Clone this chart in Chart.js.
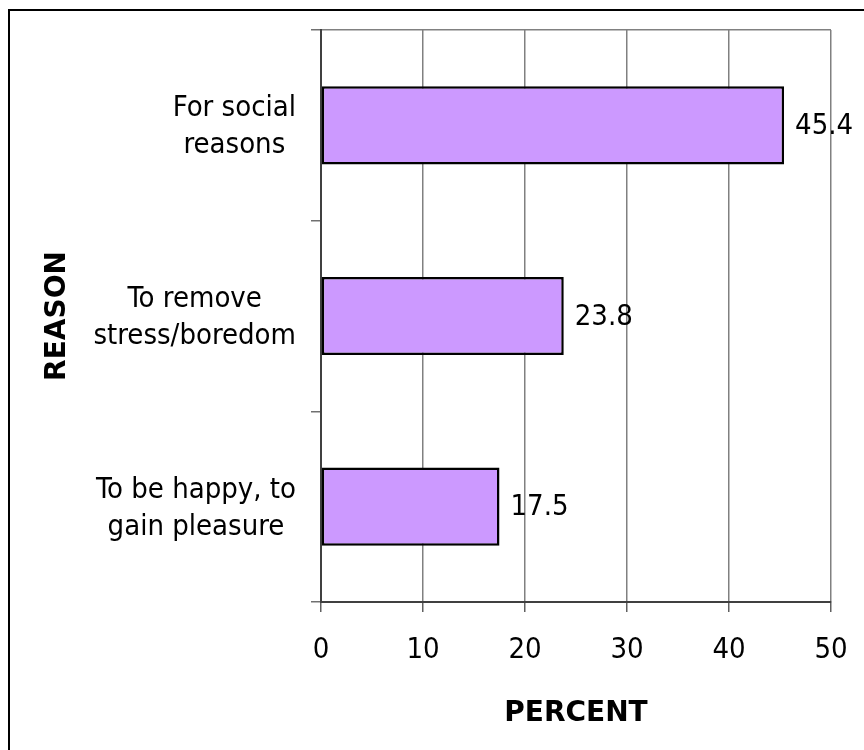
<!DOCTYPE html>
<html>
<head>
<meta charset="utf-8">
<style>
  html, body { margin: 0; padding: 0; background: #ffffff; }
  #wrap { width: 864px; height: 750px; position: relative; }
</style>
<script src="https://cdn.jsdelivr.net/npm/chart.js@4/dist/chart.umd.min.js"></script>
</head>
<body>
<div id="wrap"><canvas id="chart" width="864" height="750"></canvas></div>
<script>
// Reasons (each entry is one multi-line category label) and their percentages
const reasons = [
  ['For social', 'reasons'],
  ['To remove', 'stress/boredom'],
  ['To be happy, to', 'gain pleasure']
];
const percents = [45.4, 23.8, 17.5];
const percentTicks = [0, 10, 20, 30, 40, 50];
const valueAxisTitle = 'PERCENT';
const categoryAxisTitle = 'REASON';

const REGULAR = '"DejaVu Sans Condensed", "Liberation Sans", sans-serif';
const BOLD = '"DejaVu Sans", "Liberation Sans", sans-serif';
const TEXT_SIZE = 29;
const TICK_LEN = 10;
const LABEL_PAD = 15;

// Outer frame of the figure
const framePlugin = {
  id: 'frame',
  beforeDraw(chart) {
    const ctx = chart.ctx;
    ctx.save();
    ctx.fillStyle = '#ffffff';
    ctx.fillRect(0, 0, chart.width, chart.height);
    ctx.strokeStyle = '#000000';
    ctx.lineWidth = 2;
    ctx.strokeRect(9, 10, chart.width + 20, chart.height + 20);
    ctx.restore();
  }
};

// Category labels: each label block centred on its own widest line
const categoryLabelPlugin = {
  id: 'categoryLabels',
  afterDraw(chart) {
    const ctx = chart.ctx;
    const y = chart.scales.y;
    const right = y.right - TICK_LEN - LABEL_PAD;
    const lineH = 37;
    ctx.save();
    ctx.font = TEXT_SIZE + 'px ' + REGULAR;
    ctx.fillStyle = '#000000';
    ctx.textAlign = 'center';
    ctx.textBaseline = 'middle';
    reasons.forEach((lines, i) => {
      const py = y.getPixelForTick(i) + 2;
      const w = Math.max(...lines.map(l => ctx.measureText(l).width));
      const cx = right - w / 2;
      const y0 = py - (lines.length - 1) * lineH / 2;
      lines.forEach((l, j) => ctx.fillText(l, cx, y0 + j * lineH));
    });
    ctx.restore();
  }
};

// Value labels just past the end of each bar
const valueLabelPlugin = {
  id: 'valueLabels',
  afterDatasetsDraw(chart) {
    const ctx = chart.ctx;
    const meta = chart.getDatasetMeta(0);
    ctx.save();
    ctx.font = TEXT_SIZE + 'px ' + REGULAR;
    ctx.fillStyle = '#000000';
    ctx.textAlign = 'left';
    ctx.textBaseline = 'middle';
    meta.data.forEach((bar, i) => {
      ctx.fillText(percents[i].toFixed(1), bar.x + 11, bar.y + 1);
    });
    ctx.restore();
  }
};

new Chart(document.getElementById('chart'), {
  type: 'bar',
  data: {
    labels: reasons,
    datasets: [{
      data: percents,
      backgroundColor: '#cc99ff',
      borderColor: '#000000',
      borderWidth: 2.5,
      borderSkipped: false,
      barPercentage: 0.41,
      categoryPercentage: 1
    }]
  },
  options: {
    indexAxis: 'y',
    responsive: false,
    devicePixelRatio: 1,
    animation: false,
    layout: { padding: { top: 30, right: 33, left: 0, bottom: 0 } },
    plugins: { legend: { display: false }, tooltip: { enabled: false } },
    scales: {
      x: {
        min: 0,
        max: 50,
        afterBuildTicks: s => { s.ticks = percentTicks.map(v => ({ value: v })); },
        afterFit: s => { s.height = 148; },
        grid: { color: '#808080', lineWidth: 1.5, tickLength: TICK_LEN, tickColor: '#606060', tickWidth: 1.5 },
        border: { color: '#404040', width: 2 },
        ticks: {
          color: '#000000',
          padding: 14,
          maxRotation: 0,
          font: { family: REGULAR, size: TEXT_SIZE, lineHeight: 1.68 }
        },
        title: {
          display: true,
          text: valueAxisTitle,
          color: '#000000',
          font: { family: BOLD, size: 28, weight: 'bold' },
          padding: { top: 0, bottom: 19 }
        }
      },
      y: {
        afterFit: s => { s.width = 321; },
        grid: {
          offset: true,
          color: c => (c.type === 'tick' && c.index === 0) ? '#808080' : 'rgba(0,0,0,0)',
          lineWidth: 1.5,
          tickLength: TICK_LEN,
          tickColor: '#707070',
          tickWidth: 1.5
        },
        border: { color: '#404040', width: 2 },
        ticks: { display: false },
        title: {
          display: true,
          text: categoryAxisTitle,
          color: '#000000',
          font: { family: BOLD, size: 28, weight: 'bold' },
          padding: { top: 41, bottom: 0 }
        }
      }
    }
  },
  plugins: [framePlugin, categoryLabelPlugin, valueLabelPlugin]
});
</script>
</body>
</html>
